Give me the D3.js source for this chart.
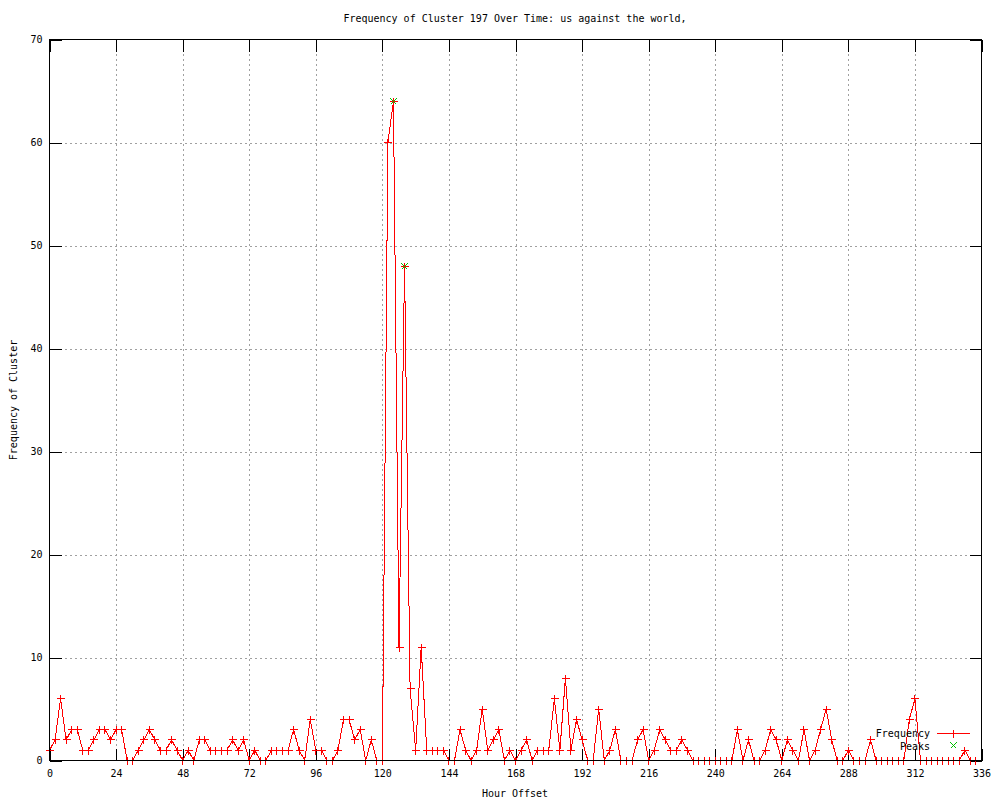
<!DOCTYPE html>
<html>
<head>
<meta charset="utf-8">
<script src="https://cdn.jsdelivr.net/npm/d3@7"></script>
<style>
  body { margin: 0; background: #fff; }
  text { font-family: "DejaVu Sans Mono", "Liberation Mono", monospace; font-size: 10px; fill: #000; }
</style>
</head>
<body>
<div id="chart"></div>
<script>
// Hour offsets (every 2 hours) and cluster frequency
let hours = d3.range(0, 336, 2);
let freq = [
  1, 2, 6, 2, 3, 3, 1, 1, 2, 3, 3, 2, 3, 3, 0, 0, 1, 2, 3, 2,   // 0-38
  1, 1, 2, 1, 0, 1, 0, 2, 2, 1, 1, 1, 1, 2, 1, 2, 0, 1, 0, 0,   // 40-78
  1, 1, 1, 1, 3, 1, 0, 4, 1, 1, 0, 0, 1, 4, 4, 2, 3, 0, 2, 0,   // 80-118
  0, 60, 64, 11, 48, 7, 1, 11, 1, 1, 1, 1, 0, 0, 3, 1, 0, 1, 5, 1, // 120-158
  2, 3, 0, 1, 0, 1, 2, 0, 1, 1, 1, 6, 1, 8, 1, 4, 2, 0, 0, 5,   // 160-198
  0, 1, 3, 0, 0, 0, 2, 3, 0, 1, 3, 2, 1, 1, 2, 1, 0, 0, 0, 0,   // 200-238
  0, 0, 0, 0, 3, 0, 2, 0, 0, 1, 3, 2, 0, 2, 1, 0, 3, 0, 1, 3,   // 240-278
  5, 2, 0, 0, 1, 0, 0, 0, 2, 0, 0, 0, 0, 0, 0, 4, 6, 0, 0, 0,   // 280-318
  0, 0, 0, 0, 0, 1, 0, 0                                         // 320-334
];
let peakHours = [124, 128];
let peakValues = [64, 48];

let xTicks = d3.range(0, 337, 24);
let yTicks = d3.range(0, 71, 10);

let titleText = "Frequency of Cluster 197 Over Time: us against the world,";
let xLabel = "Hour Offset";
let yLabel = "Frequency of Cluster";

// Layout
let margin = { top: 39, right: 19, bottom: 40, left: 49 },
    width = 1000 - margin.left - margin.right,
    height = 800 - margin.top - margin.bottom;
let tick = 12;

let data = hours.map(function (h, i) { return { h: h, v: freq[i] }; });
let peaks = peakHours.map(function (h, i) { return { h: h, v: peakValues[i] }; });

let x = d3.scaleLinear().domain([0, 336]).range([0, width]);
let y = d3.scaleLinear().domain([0, 70]).range([height, 0]);

let svg = d3.select('#chart')
  .append('svg')
  .attr('width', 1000)
  .attr('height', 800)
  .style('background', '#fff');

let g = svg.append('g')
  .attr('transform', 'translate(' + (margin.left + 0.5) + ',' + (margin.top + 0.5) + ')');

// Grid
g.append('g')
  .attr('transform', 'translate(0,' + height + ')')
  .call(d3.axisBottom(x).tickValues(xTicks.slice(1, -1)).tickSize(-height).tickFormat(''))
  .call(function (s) {
    s.select('.domain').remove();
    s.selectAll('line').attr('stroke', '#a0a0a0').attr('stroke-dasharray', '2,3').attr('shape-rendering', 'crispEdges');
  });
g.append('g')
  .call(d3.axisLeft(y).tickValues(yTicks.slice(1, -1)).tickSize(-width).tickFormat(''))
  .call(function (s) {
    s.select('.domain').remove();
    s.selectAll('line').attr('stroke', '#a0a0a0').attr('stroke-dasharray', '2,3').attr('shape-rendering', 'crispEdges');
  });

// Axes with inward ticks, mirrored
function styleAxis(s) {
  s.select('.domain').remove();
  s.selectAll('line').attr('stroke', '#000').attr('shape-rendering', 'crispEdges');
  s.selectAll('text').style('font-family', '"DejaVu Sans Mono", monospace').style('font-size', '10px');
}
g.append('g')
  .attr('transform', 'translate(0,' + height + ')')
  .call(d3.axisBottom(x).tickValues(xTicks).tickSize(-tick).tickPadding(9))
  .call(styleAxis);
g.append('g')
  .call(d3.axisTop(x).tickValues(xTicks).tickSize(-tick).tickFormat(''))
  .call(styleAxis);
g.append('g')
  .call(d3.axisLeft(y).tickValues(yTicks).tickSize(-tick).tickPadding(7))
  .call(styleAxis);
g.append('g')
  .attr('transform', 'translate(' + width + ',0)')
  .call(d3.axisRight(y).tickValues(yTicks).tickSize(-tick).tickFormat(''))
  .call(styleAxis);

// Frequency line
let line = d3.line()
  .x(function (d) { return x(d.h); })
  .y(function (d) { return y(d.v); });

g.append('path')
  .datum(data)
  .attr('fill', 'none')
  .attr('stroke', '#ff0000')
  .attr('stroke-width', 1)
  .attr('shape-rendering', 'crispEdges')
  .attr('d', line);

let plus = function (cx, cy, r) {
  return 'M' + (cx - r) + ',' + cy + 'H' + (cx + r) + 'M' + cx + ',' + (cy - r) + 'V' + (cy + r);
};
let cross = function (cx, cy, r) {
  return 'M' + (cx - r) + ',' + (cy - r) + 'L' + (cx + r) + ',' + (cy + r) +
         'M' + (cx - r) + ',' + (cy + r) + 'L' + (cx + r) + ',' + (cy - r);
};

g.append('g')
  .selectAll('path')
  .data(data)
  .enter()
  .append('path')
  .attr('stroke', '#ff0000')
  .attr('shape-rendering', 'crispEdges')
  .attr('d', function (d) { return plus(Math.round(x(d.h)), Math.round(y(d.v)), 4); });

// Peaks
g.append('g')
  .selectAll('path')
  .data(peaks)
  .enter()
  .append('path')
  .attr('stroke', '#00c000')
  .attr('shape-rendering', 'crispEdges')
  .attr('d', function (d) { return cross(Math.round(x(d.h)), Math.round(y(d.v)), 3); });

// Border
g.append('rect')
  .attr('width', width)
  .attr('height', height)
  .attr('fill', 'none')
  .attr('stroke', '#000')
  .attr('shape-rendering', 'crispEdges');

// Legend
let legend = svg.append('g');
legend.append('text')
  .attr('x', 930).attr('y', 733).attr('dy', '0.35em')
  .attr('text-anchor', 'end').text('Frequency');
legend.append('line')
  .attr('x1', 937).attr('x2', 970).attr('y1', 733.5).attr('y2', 733.5)
  .attr('stroke', '#ff0000').attr('shape-rendering', 'crispEdges');
legend.append('path')
  .attr('d', plus(953.5, 733.5, 4))
  .attr('stroke', '#ff0000').attr('shape-rendering', 'crispEdges');
legend.append('text')
  .attr('x', 930).attr('y', 746).attr('dy', '0.35em')
  .attr('text-anchor', 'end').text('Peaks');
legend.append('path')
  .attr('d', cross(953.5, 745.5, 3))
  .attr('stroke', '#00c000').attr('shape-rendering', 'crispEdges');

// Titles
svg.append('text')
  .attr('x', 515).attr('y', 18).attr('dy', '0.35em')
  .attr('text-anchor', 'middle').text(titleText);
svg.append('text')
  .attr('x', 515).attr('y', 793).attr('dy', '0.35em')
  .attr('text-anchor', 'middle').text(xLabel);
svg.append('text')
  .attr('transform', 'translate(13,400) rotate(-90)')
  .attr('dy', '0.35em')
  .attr('text-anchor', 'middle').text(yLabel);
</script>
</body>
</html>
